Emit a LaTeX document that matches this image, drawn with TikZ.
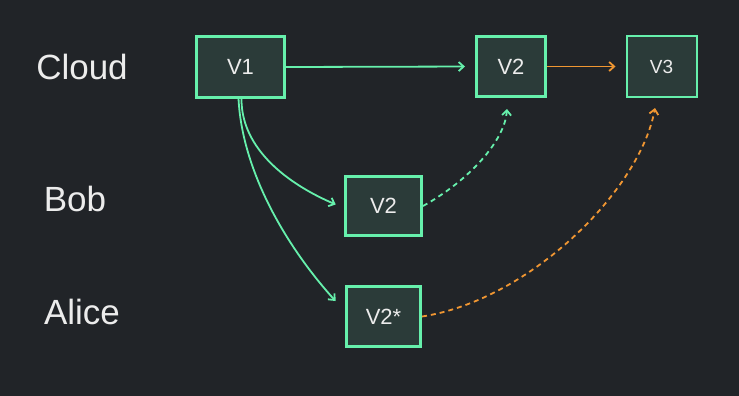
\documentclass[tikz,border=0pt]{standalone}
\usepackage{fontspec}
\setmainfont{Liberation Sans}
\usetikzlibrary{arrows.meta}
\definecolor{bg}{RGB}{33,36,40}
\definecolor{boxfill}{RGB}{43,59,57}
\definecolor{grn}{RGB}{102,240,172}
\definecolor{org}{RGB}{240,150,50}
\definecolor{txt}{RGB}{236,236,236}
\tikzset{
  ver/.style={draw=grn, fill=boxfill, line width=3pt, text=txt, inner sep=0pt, font=\fontsize{22}{26}\selectfont},
  lane/.style={text=txt, font=\fontsize{35}{40}\selectfont, inner sep=0pt},
  link/.style={line width=1.8pt, -{Straight Barb[length=5pt,width=9pt,line width=1.8pt]}},
  gl/.style={link, draw=grn},
  ol/.style={link, draw=org},
  dsh/.style={dash pattern=on 5pt off 4pt}
}
\begin{document}
\begin{tikzpicture}[x=1pt,y=-1pt]
\fill[bg] (0,0) rectangle (739,396);
\useasboundingbox (0,0) rectangle (739,396);
\node[lane] (cloud) at (82,67) {Cloud};
\node[lane] (bob) at (75,199) {Bob};
\node[lane] (alice) at (82,312) {Alice};
\node[ver, minimum width=88pt, minimum height=60pt] (v1) at (240.5,67) {V1};
\node[ver, minimum width=69pt, minimum height=60pt] (v2c) at (511,66.5) {V2};
\node[ver, line width=2pt, minimum width=70pt, minimum height=60pt, font=\fontsize{19}{23}\selectfont] (v3) at (661.5,66.5) {V3};
\node[ver, minimum width=76pt, minimum height=59pt] (v2b) at (383.5,206) {V2};
\node[ver, minimum width=74pt, minimum height=60pt] (v2a) at (383.5,316.5) {V2*};
\draw[gl, shorten >=10pt] (v1.east) -- (v2c.west);
\draw[ol, shorten >=10pt] (v2c.east) -- (v3.west);
\draw[gl, shorten >=9pt] ([xshift=1pt]v1.south) .. controls (241,150) and (290,185) .. ([yshift=-2pt]v2b.west);
\draw[gl] ([xshift=-2pt]v1.south) .. controls (242,170) and (285,245) .. ([xshift=-9.5pt,yshift=15.5pt]v2a.west) coordinate (aend);
\draw[gl, dsh] (v2b.east) .. controls (470,180) and (505,140) .. ([shift={(-4pt,-11pt)}]v2c.south);
\draw[ol, dsh] (v2a.east) .. controls (530,300) and (640,190) .. ([shift={(-6.5pt,-10.5pt)}]v3.south);
\end{tikzpicture}
\end{document}
